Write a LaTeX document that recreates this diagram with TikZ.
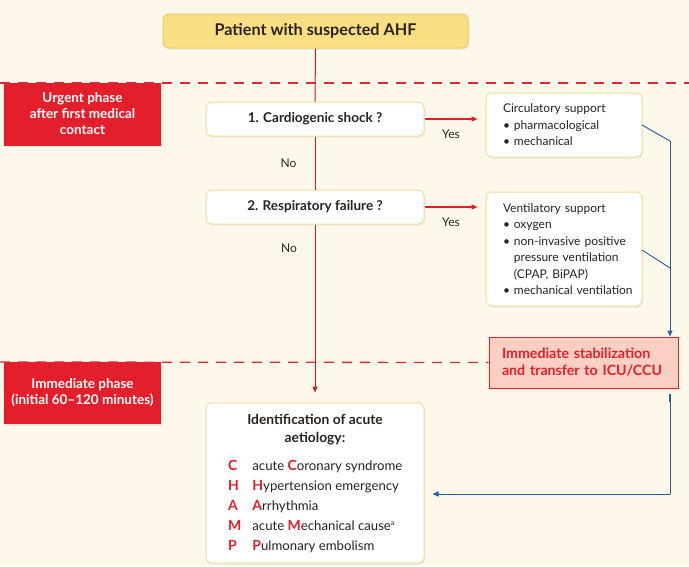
\documentclass[tikz,border=0pt]{standalone}
\usepackage{fontspec}
\setmainfont{Lato}
\usetikzlibrary{arrows.meta,shadows}
\definecolor{bg}{RGB}{253,248,234}
\definecolor{titlefill}{RGB}{250,222,132}
\definecolor{titledraw}{RGB}{242,204,95}
\definecolor{boxdraw}{RGB}{240,222,160}
\definecolor{phasered}{RGB}{228,30,42}
\definecolor{linered}{RGB}{196,30,45}
\definecolor{arrowred}{RGB}{222,30,40}
\definecolor{dashred}{RGB}{220,40,50}
\definecolor{flowblue}{RGB}{35,95,165}
\definecolor{stabfill}{RGB}{250,208,196}
\definecolor{textdark}{RGB}{40,35,30}
\tikzset{
  shad/.style={drop shadow={opacity=0.13,shadow xshift=1pt,shadow yshift=-1.5pt}},
  titlebox/.style={draw=titledraw, line width=1pt, fill=titlefill, rounded corners=6pt, shad, inner sep=0pt, font=\bfseries\fontsize{16.2}{18}\selectfont},
  qbox/.style={draw=boxdraw, line width=1pt, fill=white, rounded corners=6pt, shad, inner sep=0pt, font=\bfseries\fontsize{13.5}{16}\selectfont},
  listbox/.style={draw=boxdraw, line width=1pt, fill=white, rounded corners=6pt, shad, inner sep=0pt, align=left, font=\fontsize{12}{16.5}\selectfont},
  phasebox/.style={fill=phasered, text=white, shad, inner sep=0pt, align=center, font=\bfseries\fontsize{13.5}{16}\selectfont},
  stabbox/.style={draw=phasered, line width=0.8pt, fill=stabfill, text=phasered, shad, inner sep=0pt, align=left, font=\bfseries\fontsize{14.2}{17}\selectfont},
  lbl/.style={font=\fontsize{12}{14}\selectfont, inner sep=0pt},
  redline/.style={draw=linered, line width=1pt},
  yesarrow/.style={draw=arrowred, line width=1.2pt, -{Triangle[length=6pt,width=5pt]}},
  dashline/.style={draw=dashred, line width=1.3pt, dash pattern=on 10pt off 8pt},
  blueline/.style={draw=flowblue, line width=0.9pt},
  bluearrow/.style={blueline, -{Triangle[length=6pt,width=5pt]}},
}
\newcommand{\rl}[1]{\textcolor{phasered}{\bfseries\fontsize{14}{20}\selectfont #1}}
\begin{document}
\begin{tikzpicture}[x=1pt,y=-1pt, text=textdark]
\fill[bg] (0,0) rectangle (689,566);
\useasboundingbox (0,0) rectangle (689,566);

\node[phasebox, minimum width=157, minimum height=63] (urgent) at (82.5,114) {Urgent phase\\after first medical\\contact};
\node[phasebox, minimum width=157, minimum height=62] (immed) at (82.5,393) {Immediate phase\\(initial 60--120 minutes)};

\node[titlebox, minimum width=305, minimum height=34] (title) at (315.5,31) {Patient with suspected AHF};
\node[qbox, minimum width=218, minimum height=34] (q1) at (315,119) {1. Cardiogenic shock ?};
\node[qbox, minimum width=218, minimum height=34] (q2) at (315,207) {2. Respiratory failure ?};

\node[listbox, minimum width=156, minimum height=64, text width=156, inner xsep=0pt] (circ) at (564,125)
  {\hspace*{17pt}Circulatory support\\\hspace*{17pt}\textbullet\ pharmacological\\\hspace*{17pt}\textbullet\ mechanical};
\node[listbox, minimum width=156, minimum height=114, text width=156] (vent) at (564,249)
  {\hspace*{17pt}Ventilatory support\\\hspace*{17pt}\textbullet\ oxygen\\\hspace*{17pt}\textbullet\ non-invasive positive\\\hspace*{17pt}\phantom{\textbullet\ }pressure ventilation\\\hspace*{17pt}\phantom{\textbullet\ }(CPAP, BiPAP)\\\hspace*{17pt}\textbullet\ mechanical ventilation};

\node[stabbox, minimum width=189, minimum height=51, text width=189] (stab) at (583.5,362.5)
  {\hspace*{13pt}Immediate stabilization\\\hspace*{13pt}and transfer to ICU/CCU};

\node[qbox, minimum width=218, minimum height=160] (champ) at (315,483) {};
\node[font=\bfseries\fontsize{13.8}{18}\selectfont, align=center, inner sep=0pt] (champtitle) at (315,430) {Identification of acute\\aetiology:};
\node[font=\fontsize{13.2}{20}\selectfont, inner sep=0pt, anchor=north west] (champlist) at (228,456)
  {\begin{tabular}{@{}l@{\hspace{11pt}}l@{}}
   \rl{C} & acute \rl{C}oronary syndrome\\
   \rl{H} & \rl{H}ypertension emergency\\
   \rl{A} & \rl{A}rrhythmia\\
   \rl{M} & acute \rl{M}echanical cause\textsuperscript{\fontsize{7}{8}\selectfont a}\\
   \rl{P} & \rl{P}ulmonary embolism
   \end{tabular}};

% dashed lines
\coordinate (d1l) at (0,83);
\coordinate (d1r) at (689,83);
\coordinate (d2l) at (0,362);
\draw[dashline] (d1l) -- (d1r);
\draw[dashline] (d2l) -- (stab.west);

% main vertical
\draw[redline] (title.south) -- (q1.north);
\draw[redline] (q1.south) -- (q2.north);
\draw[redline, -{Triangle[length=6pt,width=5pt]}, shorten >=10pt] (q2.south) -- (champ.north);

\node[lbl] (no1) at (288.5,163) {No};
\node[lbl] (no2) at (289,248) {No};

% yes arrows
\draw[yesarrow, shorten >=8pt] (q1.east) -- (circ.west |- q1.east);
\draw[yesarrow, shorten >=8pt] (q2.east) -- (vent.west |- q2.east);
\node[lbl] (yes1) at (451,134) {Yes};
\node[lbl] (yes2) at (451,222) {Yes};

% blue connectors
\coordinate (cj) at (670,141);
\coordinate (vj) at (670,268);
\coordinate (bl) at (670,494);
\coordinate (ce) at (642,125);
\coordinate (ve) at (642,250);
\draw[blueline] (ce) -- (cj);
\draw[blueline] (ve) -- (vj);
\draw[bluearrow] (cj) -- (stab.north -| cj);
\draw[blueline] ([yshift=-6pt]stab.south -| bl) -- (bl);
\draw[blueline, line width=2pt] ([yshift=-6pt]stab.south -| bl) -- ([yshift=-14pt]stab.south -| bl);
\draw[bluearrow, shorten >=8pt] (bl) -- (champ.east |- bl);
\end{tikzpicture}
\end{document}
